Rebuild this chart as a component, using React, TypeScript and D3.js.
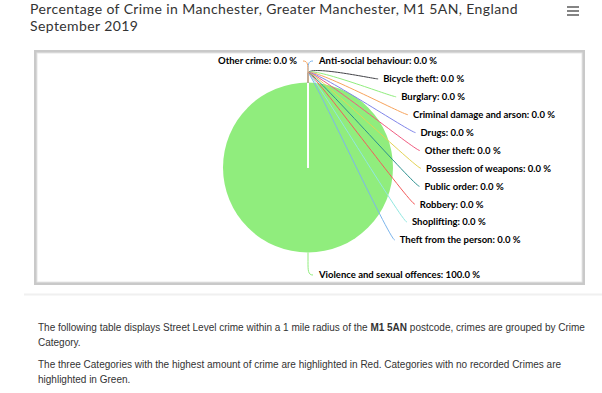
import { useEffect, useRef } from 'react';
import * as d3 from 'd3';

const categories = [
  'Anti-social behaviour',
  'Bicycle theft',
  'Burglary',
  'Criminal damage and arson',
  'Drugs',
  'Other theft',
  'Possession of weapons',
  'Public order',
  'Robbery',
  'Shoplifting',
  'Theft from the person',
  'Violence and sexual offences',
  'Other crime',
];

const percentages = [0, 0, 0, 0, 0, 0, 0, 0, 0, 0, 0, 100, 0];

const sliceColors = [
  '#7cb5ec', '#434348', '#90ed7d', '#f7a35c', '#8085e9', '#f15c80',
  '#e4d354', '#2b908f', '#f45b5b', '#91e8e1', '#7cb5ec', '#90ed7d', '#f7a35c',
];

const titleLines = [
  'Percentage of Crime in Manchester, Greater Manchester, M1 5AN, England',
  'September 2019',
];

const W = 602;
const H = 393;

interface LabelItem {
  i: number;
  mid: number;
  right: boolean;
  natY: number;
  y: number;
}

const App: React.FC = () => {
  const svgRef = useRef<SVGSVGElement>(null);

  useEffect(() => {
    if (!svgRef.current) return;
    const svg = d3.select(svgRef.current);
    svg.selectAll('*').remove();

    // page background
    svg.append('rect').attr('width', W).attr('height', H).attr('fill', 'white');

    // title, one text per line
    svg.append('g')
      .attr('font-family', 'Lato, "Noto Sans", sans-serif')
      .attr('font-size', 14)
      .attr('letter-spacing', 0.4)
      .attr('fill', '#333')
      .selectAll('text')
      .data(titleLines)
      .enter().append('text')
      .attr('x', 30)
      .attr('y', (_d, k) => 14 + k * 17)
      .text((d) => d);

    // menu icon
    svg.append('g').selectAll('line')
      .data([0, 1, 2])
      .enter().append('line')
      .attr('x1', 567).attr('x2', 579)
      .attr('y1', (d) => 7 + d * 4).attr('y2', (d) => 7 + d * 4)
      .attr('stroke', '#666').attr('stroke-width', 1.6);

    // chart frame
    svg.append('rect')
      .attr('x', 35.5).attr('y', 51.5)
      .attr('width', 548).attr('height', 232)
      .attr('fill', 'none')
      .attr('stroke', '#c9c9c9')
      .attr('stroke-width', 3);
    svg.append('rect')
      .attr('x', 37).attr('y', 53)
      .attr('width', 545).attr('height', 229)
      .attr('fill', 'none')
      .attr('stroke', '#e6e6e6')
      .attr('stroke-width', 1);

    // separator under the chart
    svg.append('line')
      .attr('x1', 24).attr('x2', W)
      .attr('y1', 294.5).attr('y2', 294.5)
      .attr('stroke', '#f0f0f0').attr('stroke-width', 2);

    // pie
    const cx = 308;
    const cy = 167.5;
    const radius = 85;
    const labelR = radius + 28;
    const plotTop = 61;
    const plotBottom = 275;
    const rowH = 17.9;

    const pie = d3.pie<number>().sort(null).value((d) => d);
    const arcs = pie(percentages);
    const arc = d3.arc<d3.PieArcDatum<number>>().innerRadius(0).outerRadius(radius);

    const g = svg.append('g').attr('transform', `translate(${cx},${cy})`);

    g.selectAll('.slice')
      .data(arcs.filter((a) => a.value > 0))
      .enter().append('path')
      .attr('class', 'slice')
      .attr('d', arc)
      .attr('fill', (d) => sliceColors[d.index]);

    // slice borders (radial edges)
    g.selectAll('.edge')
      .data(arcs)
      .enter().append('line')
      .attr('class', 'edge')
      .attr('x1', 0).attr('y1', 0)
      .attr('x2', (d) => d3.pointRadial(d.startAngle, radius)[0])
      .attr('y2', (d) => d3.pointRadial(d.startAngle, radius)[1])
      .attr('stroke', 'white')
      .attr('stroke-width', 1);

    // label layout (right half includes the bottom point)
    const items: LabelItem[] = arcs.map((a) => {
      const mid = (a.startAngle + a.endAngle) / 2;
      const natY = cy - labelR * Math.cos(mid);
      return { i: a.index, mid, right: mid <= Math.PI + 1e-6, natY, y: natY };
    });

    [true, false].forEach((side) => {
      const group = items.filter((it) => it.right === side).sort((a, b) => a.natY - b.natY);
      let prev = -Infinity;
      group.forEach((it) => {
        let y = Math.max(it.natY, prev + rowH);
        y = Math.min(Math.max(y, plotTop), plotBottom);
        it.y = y;
        prev = y;
      });
    });

    const getX = (y: number, right: boolean) => {
      const dy = y - cy;
      const dx = Math.sqrt(Math.max(0, labelR * labelR - dy * dy));
      return cx + (right ? dx : -dx);
    };

    const labels = svg.append('g');
    items.forEach((it) => {
      const atBound = it.y <= plotTop || it.y >= plotBottom;
      const ax = getX(atBound ? it.natY : it.y, it.right);
      const s = it.right ? 1 : -1;
      const endX = ax + s * (atBound ? 5 : 0);
      const textX = ax + s * (atBound ? 11 : 5);
      const touch = d3.pointRadial(it.mid, radius);
      const brk = d3.pointRadial(it.mid, radius + 9);
      const path = d3.path();
      path.moveTo(endX, it.y);
      path.bezierCurveTo(
        endX - s * 5, it.y,
        cx + 2 * brk[0] - touch[0], cy + 2 * brk[1] - touch[1],
        cx + brk[0], cy + brk[1],
      );
      path.lineTo(cx + touch[0], cy + touch[1]);
      labels.append('path')
        .attr('d', path.toString())
        .attr('fill', 'none')
        .attr('stroke', sliceColors[it.i])
        .attr('stroke-width', 1);
      labels.append('text')
        .attr('x', textX)
        .attr('y', it.y)
        .attr('dy', '0.35em')
        .attr('text-anchor', it.right ? 'start' : 'end')
        .attr('font-family', 'Lato, "Noto Sans", sans-serif')
        .attr('font-size', 9.5)
        .attr('font-weight', 'bold')
        .attr('fill', '#000')
        .text(`${categories[it.i]}: ${percentages[it.i].toFixed(1)} %`);
    });

    // description text
    const desc = svg.append('g')
      .attr('font-family', '"Liberation Sans", Arial, sans-serif')
      .attr('font-size', 10)
      .attr('fill', '#333');
    const l1 = desc.append('text').attr('x', 38).attr('y', 331);
    l1.append('tspan').text('The following table displays Street Level crime within a 1 mile radius of the ');
    l1.append('tspan').attr('font-weight', 'bold').text('M1 5AN');
    l1.append('tspan').text(' postcode, crimes are grouped by Crime');
    desc.append('text').attr('x', 38).attr('y', 346).text('Category.');
    desc.append('text').attr('x', 38).attr('y', 368)
      .text('The three Categories with the highest amount of crime are highlighted in Red. Categories with no recorded Crimes are');
    desc.append('text').attr('x', 38).attr('y', 383).text('highlighted in Green.');
  }, []);

  return (
    <svg
      ref={svgRef}
      width={W}
      height={H}
      style={{ position: 'absolute', left: 0, top: 0, display: 'block' }}
    />
  );
};

export default App;
